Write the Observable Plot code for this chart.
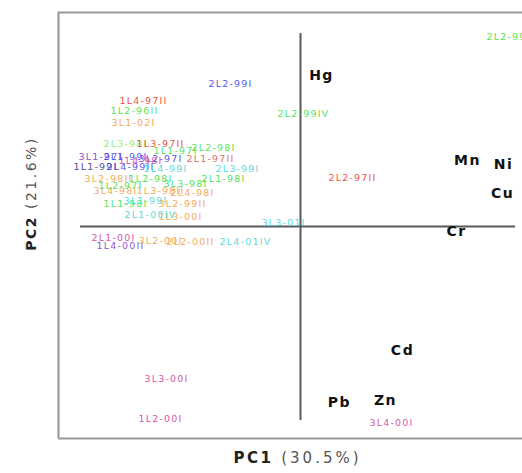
<!DOCTYPE html>
<html><head><meta charset="utf-8">
<script src="https://cdn.jsdelivr.net/npm/d3@7"></script>
<script src="https://cdn.jsdelivr.net/npm/@observablehq/plot@0.6"></script>
<style>
body{margin:0;background:#fff;}
#chart svg{display:block;}
</style>
</head><body><div id="chart"></div>
<script>
// Sample scores (PC1, PC2)
const sampleNames = ["1L4-97II","1L2-96II","3L1-02I","2L3-98I","1L3-97II","2L2-98I","1L1-97I","3L1-97I","2L1-99I","3L2-97I","2L1-97II","1L1-99I","2L4-99II","1L4-99I","2L3-99I","3L2-98II","1L2-98I","2L1-98I","3L4-98I","1L3-98II","2L4-98I","1L1-98I","3L1-99I","3L2-99II","2L1-00IV","1L3-00I","1L2-97I","1L4-98I","3L3-98I","2L1-00I","1L4-00II","3L2-00I","2L2-00II","2L4-01IV","3L3-01I","2L2-99III","2L2-99I","2L2-99IV","2L2-97II","3L3-00I","1L2-00I","3L4-00I"];
const sampleX = [-3.14,-3.32,-3.34,-3.50,-2.80,-1.74,-2.50,-4.00,-3.50,-2.80,-1.80,-4.10,-3.40,-2.70,-1.26,-3.84,-3.00,-1.54,-3.70,-2.80,-2.16,-3.50,-3.10,-2.36,-3.00,-2.40,-3.60,-3.20,-2.30,-3.74,-3.60,-2.80,-2.20,-1.10,-0.34,4.24,-1.40,0.06,1.04,-2.68,-2.80,1.82];
const sampleY = [2.52,2.32,2.08,1.66,1.66,1.58,1.52,1.40,1.40,1.36,1.36,1.20,1.20,1.16,1.16,0.96,0.96,0.96,0.72,0.72,0.68,0.46,0.52,0.46,0.24,0.20,0.82,1.32,0.86,-0.22,-0.38,-0.28,-0.30,-0.30,0.08,3.80,2.86,2.26,0.98,-3.04,-3.84,-3.92];
const sampleGroup = ["red","green","orange","lightgreen","red","green","green","purple","blue","blue","darkred","navy","blue","cyan","cyan","orange","green","green","orange","orange","orange","green","cyan","orange","cyan","orange","green","magenta","green","magenta","purple","orange","orange","cyan","cyan","green","blue","green","red","magenta","magenta","magenta"];
const groupNames = ["red","green","lightgreen","orange","blue","purple","navy","cyan","magenta","darkred"];
const groupColors = ["#ea3a30","#3ce03c","#8cec50","#f2a042","#3a44e6","#7a3ccc","#34348e","#3fd6d6","#d0409e","#d85a5a"];

// Variable loadings (scaled)
const variableNames = ["Hg","Mn","Ni","Cu","Cr","Cd","Pb","Zn"];
const variableX = [0.42,3.34,4.06,4.04,3.12,2.04,0.78,1.70];
const variableY = [3.02,1.32,1.24,0.66,-0.10,-2.48,-3.52,-3.48];

const xDomain = [-4.84, 4.44];
const yDomain = [-4.24, 4.28];
const hAxisExtent = [-4.4, 4.3];
const vAxisExtent = [-3.88, 3.86];
const xTitleMain = "PC1", xTitlePct = "(30.5%)";
const yTitleMain = "PC2", yTitlePct = "(21.6%)";

const colorOf = new Map(groupNames.map((g,i)=>["grp-"+g, groupColors[i]]));
const samples = sampleNames.map((n,i)=>({name:n, x:sampleX[i], y:sampleY[i], g:"grp-"+sampleGroup[i]}));
const variables = variableNames.map((n,i)=>({name:n, x:variableX[i], y:variableY[i]}));

const chart = Plot.plot({
  width: 522,
  height: 473,
  marginLeft: 58,
  marginRight: 0,
  marginTop: 12,
  marginBottom: 35,
  x: {domain: xDomain, axis: null},
  y: {domain: yDomain, axis: null},
  color: {domain: [...colorOf.keys()], range: [...colorOf.values()]},
  style: {fontFamily: "DejaVu Sans, sans-serif", background: "#fff"},
  marks: [
    Plot.ruleY([yDomain[1]], {stroke: "#9a9a9a", strokeWidth: 2.2}),
    Plot.ruleY([yDomain[0]], {stroke: "#9a9a9a", strokeWidth: 2.2}),
    Plot.ruleX([xDomain[0]], {stroke: "#9a9a9a", strokeWidth: 2.2}),
    Plot.ruleY([0], {x1: hAxisExtent[0], x2: hAxisExtent[1], stroke: "#5a5a5a", strokeWidth: 2}),
    Plot.ruleX([0], {y1: vAxisExtent[0], y2: vAxisExtent[1], stroke: "#5a5a5a", strokeWidth: 2}),
    Plot.text(samples, {x: "x", y: "y", text: "name", fill: "g", fontSize: 9.5, fontFamily: "DejaVu Sans", fillOpacity: 0.9}),
    Plot.text(variables, {x: "x", y: "y", text: "name", fill: "#111", fontSize: 14, fontWeight: "bold", fontFamily: "DejaVu Sans"}),
    Plot.text([xTitleMain + " " + xTitlePct], {frameAnchor: "bottom", textAnchor: "middle", dx: 7, dy: 24, text: d=>d, fontSize: 15, fill: "#555"}),
    Plot.text([yTitleMain + " " + yTitlePct], {frameAnchor: "left", textAnchor: "middle", rotate: -90, dx: -27, dy: -32, text: d=>d, fontSize: 14, fill: "#555"})
  ]
});
const groups = d3.select(chart).selectAll('g[aria-label="text"]').nodes();
d3.select(groups[0]).style("letter-spacing", "1.2px");
d3.select(groups[1]).style("letter-spacing", "1.5px");
// axis titles: bold "PCn" followed by the variance share
[[groups[2], xTitleMain, xTitlePct, "2.5px", "3px"], [groups[3], yTitleMain, yTitlePct, "1.5px", "2.5px"]].forEach(([g, main, pct, ls1, ls2]) => {
  const t = d3.select(g).select("text");
  t.text(null);
  t.append("tspan").attr("font-weight", "bold").attr("fill", "#222").style("letter-spacing", ls1).text(main);
  t.append("tspan").style("letter-spacing", ls2).text(" " + pct);
});
document.getElementById("chart").appendChild(chart);
</script>
</body></html>
